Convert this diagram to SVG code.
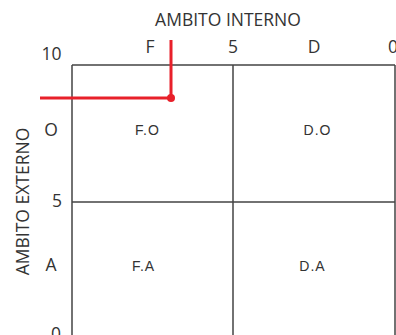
<svg xmlns="http://www.w3.org/2000/svg" width="396" height="335" viewBox="0 0 396 335">
<style>
.ax{font-family:"Open Sans","Liberation Sans",sans-serif;font-size:17.5px;fill:#333}
.cl{font-family:"Liberation Sans",Arial,sans-serif;font-size:14px;letter-spacing:1px;fill:#333;text-anchor:middle}
.g{stroke:#444;stroke-width:1.5;fill:none}
</style>
<rect width="396" height="335" fill="#fff"/>
<g id="grid">
<path class="g" d="M72 65H395M72 202H395M72 65V335M233 65V335M395 65V335"/>
</g>
<g id="axis-top">
<text class="ax" x="228" y="26" text-anchor="middle">AMBITO INTERNO</text>
<text class="ax" x="51.5" y="60" text-anchor="middle">10</text>
<text class="ax" x="150" y="53" text-anchor="middle">F</text>
<text class="ax" x="233" y="53" text-anchor="middle">5</text>
<text class="ax" x="314" y="53" text-anchor="middle">D</text>
<text class="ax" x="388" y="53">0</text>
</g>
<g id="axis-left">
<text class="ax" transform="translate(29,201.5) rotate(-90)" text-anchor="middle">AMBITO EXTERNO</text>
<text class="ax" x="51" y="136" text-anchor="middle">O</text>
<text class="ax" x="57" y="207" text-anchor="middle">5</text>
<text class="ax" x="51" y="271" text-anchor="middle">A</text>
<text class="ax" x="56" y="340" text-anchor="middle">0</text>
</g>
<g id="FO"><text class="cl" x="147.5" y="135">F.O</text></g>
<g id="DO"><text class="cl" x="317.5" y="135">D.O</text></g>
<g id="FA"><text class="cl" x="143.5" y="271">F.A</text></g>
<g id="DA"><text class="cl" x="312.5" y="271">D.A</text></g>
<g id="connectors">
<path d="M171 40V98H40" stroke="#e8202a" stroke-width="3" fill="none"/>
<circle cx="171" cy="98" r="4" fill="#e8202a"/>
</g>
</svg>
